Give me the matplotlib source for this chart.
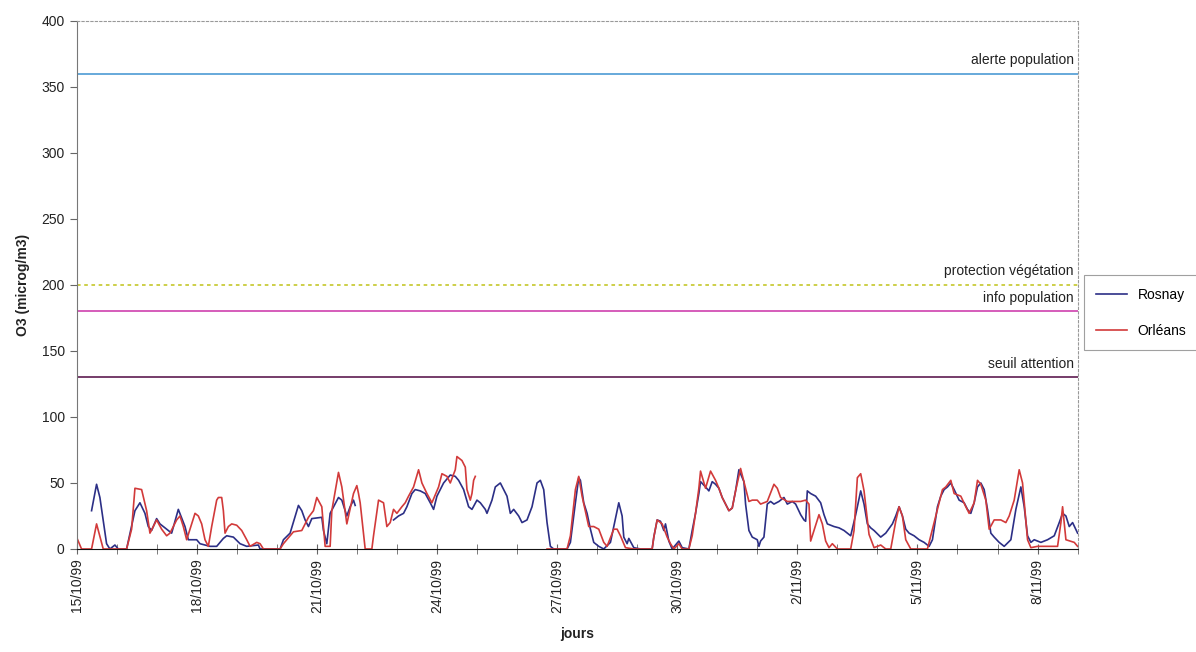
import numpy as np
import matplotlib
matplotlib.use('Agg')
import matplotlib.pyplot as plt

plt.rcParams['font.family'] = ['Liberation Sans', 'DejaVu Sans']

# hours since 15/10/99 00:00 and O3 values (microg/m3); nan = missing data
rosnay_h = [9, 12, 14, 18, 20, 23, 25, 30, 35, 38, 41, 43, 45, 48, 50, 52, 54, 57, 61, 65,
            67, 72, 74, 80, 84, 88, 90, 94, 98, 102, 109, 110, 122, 124, 128, 133, 135, 137, 139, 141,
            147, 148, 150, 152, 157, 159, 162, 164, 166, 167, 168,
            190, 191, 193, 196, 198, 201, 203, 206, 209, 212, 214, 216, 218, 220, 224, 227, 229, 232, 235,
            237, 240, 242, 245, 246, 249, 251, 254, 256, 258, 260, 262, 265, 267, 270, 273, 276, 278, 280, 282,
            284, 286, 294, 296, 299, 301, 302, 304, 306, 308, 310, 313, 316, 320, 325, 327, 328, 330, 331, 334,
            338, 345, 346, 348, 350, 352, 353, 355, 357, 361, 363, 367, 369, 371, 373, 374, 377, 379, 381, 383,
            385, 387, 389, 391, 393, 395, 397, 400, 401, 403, 405, 408, 409, 410, 412, 414, 416, 418, 421, 424,
            426, 429, 431, 434, 436, 437, 438, 440, 443, 446, 448, 450, 454, 457, 460, 464, 467, 470, 472, 474,
            476, 478, 482, 485, 489, 491, 493, 495, 497, 499, 502, 505, 508, 511, 513, 516, 518, 520, 522, 524,
            526, 529, 532, 534, 536, 538, 540, 542, 544, 546, 548, 550, 553, 556, 560, 563, 566, 568, 570, 572,
            574, 578, 582, 586, 589, 591, 593, 595, 597, 600]
rosnay_v = [29, 49, 39, 4, 0, 3, 0, 0, 29, 35, 27, 17, 14, 23, 19, 17, 15, 12, 30, 17,
            7, 7, 4, 2, 2, 8, 10, 9, 4, 2, 3, 0, 0, 7, 12, 33, 29, 22, 17, 23,
            24, 14, 4, 27, 39, 37, 25, 32, 37, 33, np.nan,
            22, 23, 25, 27, 32, 42, 45, 44, 42, 35, 30, 40, 45, 50, 56, 55, 52, 45, 32,
            30, 37, 35, 30, 27, 37, 47, 50, 45, 40, 27, 30, 25, 20, 22, 32, 50, 52, 45, 20,
            2, 0, 0, 5, 35, 54, 52, 35, 27, 15, 5, 2, 0, 5, 35, 25, 9, 4, 8, 1,
            0, 0, 9, 22, 21, 14, 19, 6, 0, 6, 1, 0, 14, 27, 42, 51, 47, 44, 51, 49,
            46, 39, 34, 29, 31, 44, 60, 51, 34, 14, 9, 7, 2, 6, 9, 34, 36, 34, 36, 39,
            34, 36, 34, 26, 22, 21, 44, 42, 40, 35, 26, 19, 17, 16, 14, 10, 26, 44, 34, 19,
            16, 14, 9, 12, 19, 25, 32, 25, 15, 12, 10, 7, 5, 2, 7, 32, 40, 45, 47, 50,
            45, 37, 35, 30, 27, 35, 47, 50, 45, 30, 12, 9, 5, 2, 7, 30, 47, 32, 10, 5,
            7, 5, 7, 10, 20, 27, 25, 17, 20, 12]

orleans_h = [0, 3, 9, 12, 16, 30, 33, 35, 39, 42, 44, 48, 51, 54, 56, 60, 62, 64, 66, 69,
             71, 73, 75, 77, 79, 81, 84, 85, 87, 88, 89, 91, 93, 96, 99, 102, 104, 108, 110, 112,
             122, 124, 130, 135, 139, 142, 144, 147, 148, 149, 152, 153, 157, 159, 162, 166, 168, 169, 170, 173,
             177, 178, 181, 184, 186, 188, 190, 192, 195, 197, 199, 202, 205, 207, 210, 213, 217, 219, 222, 224,
             227, 228, 231, 233, 234, 236, 237, 238, 239, 240,
             282, 294, 296, 299, 301, 303, 307, 310, 313, 316, 318, 322, 324, 326, 329, 334, 345, 346, 348, 351,
             354, 356, 358, 361, 363, 367, 369, 371, 373, 374, 377, 380, 383, 385, 387, 389, 391, 393, 395, 398,
             400, 403, 405, 408, 410, 414, 418, 420, 422, 426, 430, 434, 437, 439, 440, 442, 445, 447, 449, 451,
             453, 456, 464, 466, 468, 470, 472, 475, 478, 482, 485, 488, 491, 493, 495, 497, 500, 510, 514, 519,
             521, 524, 526, 530, 533, 535, 538, 540, 542, 545, 547, 550, 554, 557, 559, 562, 565, 567, 570, 572,
             576, 588, 590, 591, 593, 598, 600]
orleans_v = [9, 0, 0, 19, 0, 0, 15, 46, 45, 29, 12, 22, 15, 10, 12, 22, 25, 17, 7, 19,
             27, 25, 19, 7, 2, 17, 37, 39, 39, 29, 12, 17, 19, 18, 14, 7, 2, 5, 4, 0,
             0, 4, 13, 14, 24, 29, 39, 32, 17, 2, 2, 29, 58, 47, 19, 42, 48, 42, 35, 0,
             0, 10, 37, 35, 17, 20, 30, 27, 32, 35, 40, 47, 60, 50, 42, 35, 47, 57, 55, 50,
             60, 70, 67, 62, 45, 37, 42, 52, 55, np.nan,
             0, 0, 10, 45, 55, 40, 17, 17, 15, 5, 2, 15, 15, 10, 1, 0, 0, 9, 22, 19,
             9, 4, 0, 4, 0, 0, 10, 27, 46, 59, 46, 59, 52, 46, 39, 34, 29, 31, 44, 61,
             51, 36, 37, 37, 34, 36, 49, 46, 39, 36, 36, 36, 37, 34, 6, 14, 26, 19, 6, 1,
             4, 0, 0, 14, 54, 57, 44, 11, 1, 3, 0, 0, 21, 32, 25, 7, 0, 0, 20, 45,
             47, 52, 42, 40, 32, 27, 35, 52, 49, 37, 15, 22, 22, 20, 25, 37, 60, 50, 7, 1,
             2, 2, 20, 32, 7, 5, 2]

seuils = [360, 200, 180, 130]
seuil_noms = ['alerte population', 'protection végétation', 'info population', 'seuil attention']
seuil_couleurs = ['#5aa2d8', '#c9cc3a', '#d24fb4', '#6a2d5e']
seuil_styles = ['-', (0, (2, 2)), '-', '-']

tick_labels = ['15/10/99', '18/10/99', '21/10/99', '24/10/99', '27/10/99',
               '30/10/99', '2/11/99', '5/11/99', '8/11/99']

fig = plt.figure(figsize=(11.96, 6.52), dpi=100)
ax = fig.add_axes([0.064, 0.158, 0.837, 0.81])

n_days = 25
for val, nom, col, ls in zip(seuils, seuil_noms, seuil_couleurs, seuil_styles):
    ax.plot([0, n_days], [val, val], color=col, lw=1.3, ls=ls)
    ax.text(n_days - 0.1, val + 5, nom, ha='right', va='bottom',
            fontsize=10, color='#222222')

ax.plot(np.array(rosnay_h) / 24, rosnay_v, color='#2c2f86', lw=1.2, label='Rosnay')
ax.plot(np.array(orleans_h) / 24, orleans_v, color='#d23a3a', lw=1.2, label='Orléans')

ax.set_xlim(0, n_days)
ax.set_ylim(0, 400)
ax.set_yticks(np.arange(0, 401, 50))
ax.set_xticks(np.arange(0, 25, 3))
ax.set_xticklabels(tick_labels, rotation=90)
ax.set_xticks(np.arange(0, 26, 1), minor=True)
ax.tick_params(axis='y', direction='out', length=5, color='#666666',
               labelsize=10, labelcolor='#222222')
ax.tick_params(axis='x', which='both', direction='inout', length=7,
               color='#666666', labelsize=10, labelcolor='#222222')

ax.spines['left'].set_color('#777777')
ax.spines['bottom'].set_color('#111111')
for s in ['top', 'right']:
    ax.spines[s].set_color('#999999')
    ax.spines[s].set_linestyle((0, (2, 2)))
    ax.spines[s].set_linewidth(0.8)

ax.set_ylabel('O3 (microg/m3)', fontsize=10, fontweight='bold', color='#222222', labelpad=8)
ax.set_xlabel('jours', fontsize=10, fontweight='bold', color='#222222', labelpad=10)

leg = fig.legend(loc='upper left', bbox_to_anchor=(0.906, 0.578), fontsize=10,
                 frameon=True, fancybox=False, edgecolor='#888888',
                 handlelength=2.2, labelspacing=1.6, borderpad=0.9,
                 borderaxespad=0)
leg.get_frame().set_linewidth(0.8)

fig.savefig('out.png', dpi=100)
